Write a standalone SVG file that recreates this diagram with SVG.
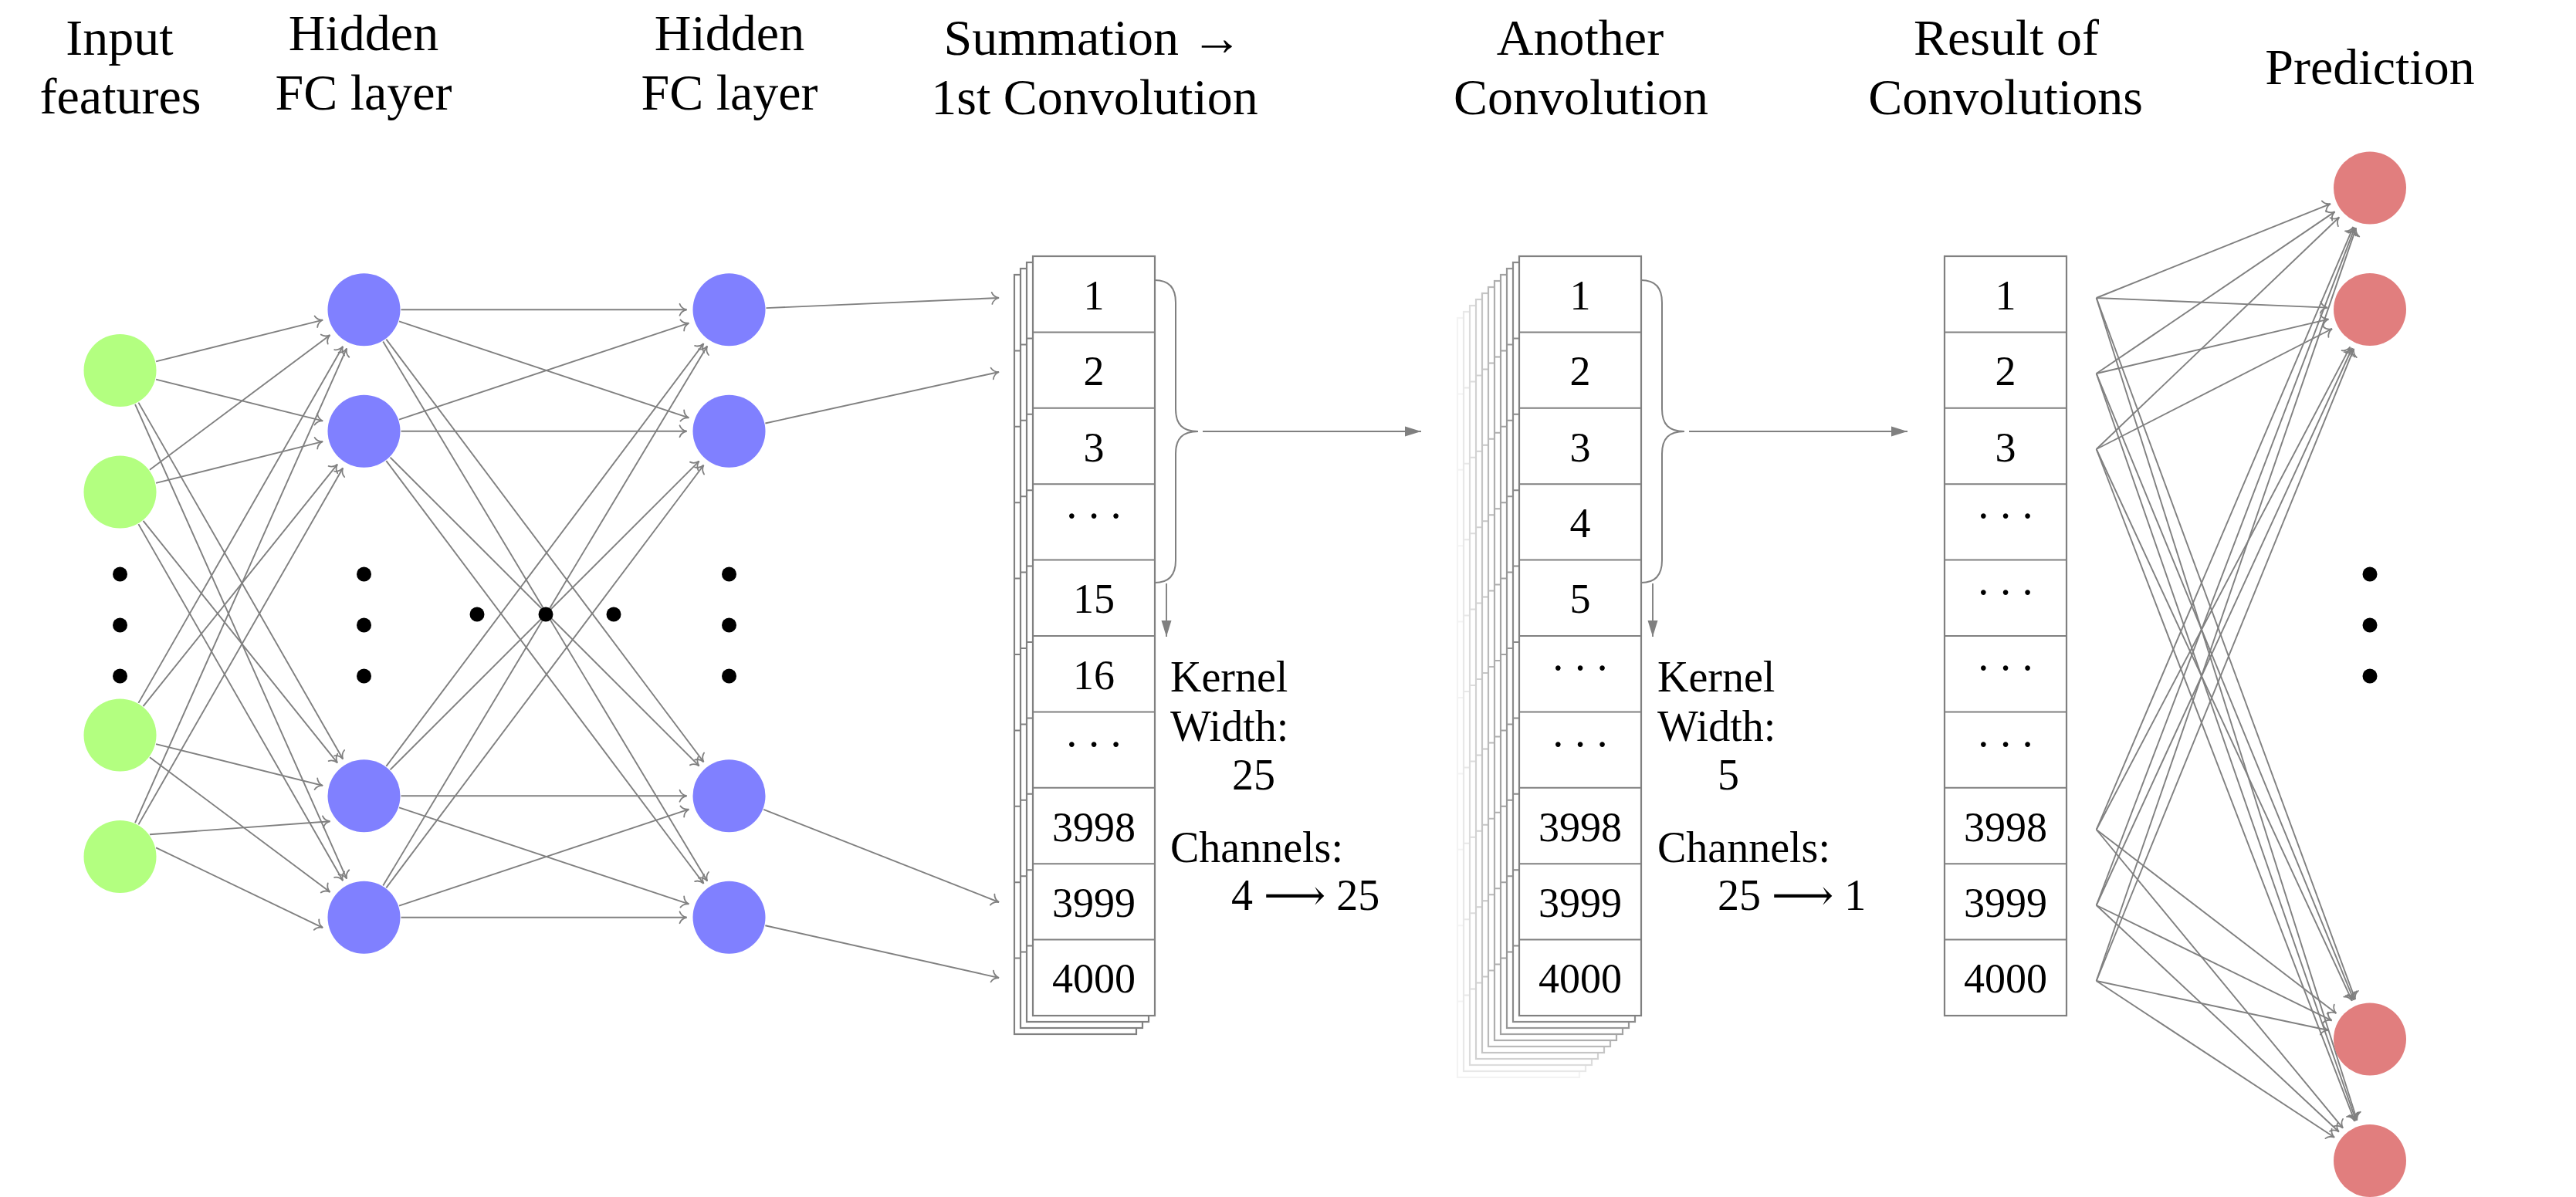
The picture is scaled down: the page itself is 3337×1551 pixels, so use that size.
<svg xmlns="http://www.w3.org/2000/svg" xmlns:xlink="http://www.w3.org/1999/xlink" width="3337" height="1551" viewBox="0 0 3337 1551">
<style>
text{font-family:"Liberation Serif","DejaVu Serif",serif;fill:#000}
.h{font-size:66px;text-anchor:middle}
.k{font-size:56px}
.c{font-size:54px;text-anchor:middle}
.d{font-size:56px;text-anchor:middle;letter-spacing:10px}
.e line{stroke:#808080;stroke-width:1.9;fill:none}
.e path{stroke:#808080;stroke-width:2;fill:none}
.in{fill:#b3ff80}.hid{fill:#8080ff}.out{fill:#e17e7e}
.dot{fill:#000}
</style>
<defs>
<marker id="to" viewBox="-11 -10 13 20" markerWidth="13" markerHeight="20" refX="0" refY="0" orient="auto" markerUnits="userSpaceOnUse">
<path d="M-9,-7.5 C-7.5,-3 -3.5,-0.8 0,0 C-3.5,0.8 -7.5,3 -9,7.5" fill="none" stroke="#808080" stroke-width="1.8" stroke-linecap="round"/>
</marker>
<marker id="lat" viewBox="-22 -8 23 16" markerWidth="23" markerHeight="16" refX="0" refY="0" orient="auto" markerUnits="userSpaceOnUse">
<path d="M0,0 L-21,-6.5 L-21,6.5 Z" fill="#808080"/>
</marker>
<g id="grid">
<rect x="0" y="0" width="158" height="984" fill="#fff" stroke-width="2.2"/>
<path d="M0,98.4H158M0,196.8H158M0,295.2H158M0,393.6H158M0,492H158M0,590.4H158M0,688.8H158M0,787.2H158M0,885.6H158" fill="none" stroke-width="2"/>
</g>
</defs>
<rect width="3337" height="1551" fill="#fff"/>

<g id="headers">
<text class="h" x="155" y="71">Input</text>
<text class="h" x="156" y="147">features</text>
<text class="h" x="471" y="65">Hidden</text>
<text class="h" x="471" y="142">FC layer</text>
<text class="h" x="945" y="65">Hidden</text>
<text class="h" x="945" y="142">FC layer</text>
<text class="h" x="1416" y="71">Summation →</text>
<text class="h" x="1418" y="148">1st Convolution</text>
<text class="h" x="2047" y="71">Another</text>
<text class="h" x="2048" y="148">Convolution</text>
<text class="h" x="2599" y="71">Result of</text>
<text class="h" x="2598" y="148">Convolutions</text>
<text class="h" x="3070" y="109">Prediction</text>
</g>

<g id="connectors" class="e">
<!-- input -> hidden1 -->
<line x1="202.08" y1="468.39" x2="418.13" y2="414.55" marker-end="url(#to)"/>
<line x1="202.08" y1="491.61" x2="418.13" y2="545.45" marker-end="url(#to)"/>
<line x1="179.37" y1="521.64" x2="444.15" y2="983.53" marker-end="url(#to)"/>
<line x1="175.05" y1="523.84" x2="449.10" y2="1138.52" marker-end="url(#to)"/>
<line x1="193.94" y1="608.76" x2="427.45" y2="434.18" marker-end="url(#to)"/>
<line x1="202.08" y1="625.89" x2="418.13" y2="572.05" marker-end="url(#to)"/>
<line x1="185.54" y1="674.94" x2="437.08" y2="988.36" marker-end="url(#to)"/>
<line x1="179.37" y1="679.14" x2="444.15" y2="1141.03" marker-end="url(#to)"/>
<line x1="179.37" y1="910.86" x2="444.15" y2="448.97" marker-end="url(#to)"/>
<line x1="185.54" y1="915.06" x2="437.08" y2="601.64" marker-end="url(#to)"/>
<line x1="202.08" y1="964.11" x2="418.13" y2="1017.95" marker-end="url(#to)"/>
<line x1="193.94" y1="981.24" x2="427.45" y2="1155.82" marker-end="url(#to)"/>
<line x1="175.05" y1="1066.16" x2="449.10" y2="451.48" marker-end="url(#to)"/>
<line x1="179.37" y1="1068.36" x2="444.15" y2="606.47" marker-end="url(#to)"/>
<line x1="193.94" y1="1081.26" x2="427.45" y2="1064.18" marker-end="url(#to)"/>
<line x1="202.08" y1="1098.39" x2="418.13" y2="1202.05" marker-end="url(#to)"/>
<!-- hidden1 -> hidden2 -->
<line x1="519.5" y1="401.25" x2="889.5" y2="401.25" marker-end="url(#to)"/>
<line x1="517.04" y1="416.41" x2="892.32" y2="541.37" marker-end="url(#to)"/>
<line x1="500.32" y1="439.64" x2="911.48" y2="987.27" marker-end="url(#to)"/>
<line x1="496.22" y1="442.40" x2="916.18" y2="1141.60" marker-end="url(#to)"/>
<line x1="517.04" y1="543.59" x2="892.32" y2="418.63" marker-end="url(#to)"/>
<line x1="519.5" y1="558.75" x2="889.5" y2="558.75" marker-end="url(#to)"/>
<line x1="505.46" y1="592.67" x2="905.59" y2="992.38" marker-end="url(#to)"/>
<line x1="500.32" y1="597.14" x2="911.48" y2="1144.77" marker-end="url(#to)"/>
<line x1="500.32" y1="992.86" x2="911.48" y2="445.23" marker-end="url(#to)"/>
<line x1="505.46" y1="997.33" x2="905.59" y2="597.62" marker-end="url(#to)"/>
<line x1="519.5" y1="1031.25" x2="889.5" y2="1031.25" marker-end="url(#to)"/>
<line x1="517.04" y1="1046.41" x2="892.32" y2="1171.37" marker-end="url(#to)"/>
<line x1="496.22" y1="1147.60" x2="916.18" y2="448.40" marker-end="url(#to)"/>
<line x1="500.32" y1="1150.36" x2="911.48" y2="602.73" marker-end="url(#to)"/>
<line x1="517.04" y1="1173.59" x2="892.32" y2="1048.63" marker-end="url(#to)"/>
<line x1="519.5" y1="1188.75" x2="889.5" y2="1188.75" marker-end="url(#to)"/>
<!-- hidden2 -> conv -->
<line x1="992.45" y1="399.16" x2="1294" y2="386" marker-end="url(#to)"/>
<line x1="991.38" y1="548.45" x2="1294" y2="482" marker-end="url(#to)"/>
<line x1="989.16" y1="1048.85" x2="1294" y2="1169" marker-end="url(#to)"/>
<line x1="991.34" y1="1199.24" x2="1294" y2="1267" marker-end="url(#to)"/>
<!-- result -> prediction -->
<line x1="2715.7" y1="386" x2="3018.97" y2="264.02" marker-end="url(#to)"/>
<line x1="2715.7" y1="386" x2="3015.05" y2="398.67" marker-end="url(#to)"/>
<line x1="2715.7" y1="386" x2="3050.97" y2="1294.90" marker-end="url(#to)"/>
<line x1="2715.7" y1="386" x2="3053.38" y2="1451.57" marker-end="url(#to)"/>
<line x1="2715.7" y1="484" x2="3024.49" y2="274.39" marker-end="url(#to)"/>
<line x1="2715.7" y1="484" x2="3016.45" y2="413.55" marker-end="url(#to)"/>
<line x1="2715.7" y1="484" x2="3049.10" y2="1295.62" marker-end="url(#to)"/>
<line x1="2715.7" y1="484" x2="3051.95" y2="1452.04" marker-end="url(#to)"/>
<line x1="2715.7" y1="582" x2="3030.23" y2="281.49" marker-end="url(#to)"/>
<line x1="2715.7" y1="582" x2="3021.02" y2="426.02" marker-end="url(#to)"/>
<line x1="2715.7" y1="582" x2="3046.87" y2="1296.60" marker-end="url(#to)"/>
<line x1="2715.7" y1="582" x2="3050.27" y2="1452.66" marker-end="url(#to)"/>
<line x1="2715.7" y1="1075" x2="3048.44" y2="294.10" marker-end="url(#to)"/>
<line x1="2715.7" y1="1075" x2="3044.41" y2="449.68" marker-end="url(#to)"/>
<line x1="2715.7" y1="1075" x2="3026.34" y2="1313.05" marker-end="url(#to)"/>
<line x1="2715.7" y1="1075" x2="3034.98" y2="1461.59" marker-end="url(#to)"/>
<line x1="2715.7" y1="1173" x2="3050.41" y2="294.89" marker-end="url(#to)"/>
<line x1="2715.7" y1="1173" x2="3047.06" y2="450.99" marker-end="url(#to)"/>
<line x1="2715.7" y1="1173" x2="3020.60" y2="1322.31" marker-end="url(#to)"/>
<line x1="2715.7" y1="1173" x2="3029.81" y2="1466.45" marker-end="url(#to)"/>
<line x1="2715.7" y1="1271" x2="3052.07" y2="295.50" marker-end="url(#to)"/>
<line x1="2715.7" y1="1271" x2="3049.26" y2="451.94" marker-end="url(#to)"/>
<line x1="2715.7" y1="1271" x2="3016.21" y2="1335.04" marker-end="url(#to)"/>
<line x1="2715.7" y1="1271" x2="3024.05" y2="1473.78" marker-end="url(#to)"/>
<!-- braces and conv arrows -->
<path d="M1496,363 C1514,363 1523,372 1523,392 L1523,530 C1523,550 1532,559 1552,559 C1532,559 1523,568 1523,588 L1523,726 C1523,746 1514,755 1496,755"/>
<line x1="1558" y1="559" x2="1841" y2="559" marker-end="url(#lat)"/>
<line x1="1511" y1="756" x2="1511" y2="825" marker-end="url(#lat)"/>
<path d="M2126,363 C2144,363 2153,372 2153,392 L2153,530 C2153,550 2162,559 2182,559 C2162,559 2153,568 2153,588 L2153,726 C2153,746 2144,755 2126,755"/>
<line x1="2188" y1="559" x2="2471" y2="559" marker-end="url(#lat)"/>
<line x1="2141" y1="756" x2="2141" y2="825" marker-end="url(#lat)"/>
</g>

<g id="input-layer">
<circle class="in" cx="155.5" cy="480" r="47"/>
<circle class="in" cx="155.5" cy="637.5" r="47"/>
<circle class="in" cx="155.5" cy="952.5" r="47"/>
<circle class="in" cx="155.5" cy="1110" r="47"/>
<circle class="dot" cx="155.5" cy="744" r="9.5"/>
<circle class="dot" cx="155.5" cy="810" r="9.5"/>
<circle class="dot" cx="155.5" cy="876" r="9.5"/>
</g>
<g id="hidden-layer-1">
<circle class="hid" cx="471.5" cy="401.25" r="47"/>
<circle class="hid" cx="471.5" cy="558.75" r="47"/>
<circle class="hid" cx="471.5" cy="1031.25" r="47"/>
<circle class="hid" cx="471.5" cy="1188.75" r="47"/>
<circle class="dot" cx="471.5" cy="744" r="9.5"/>
<circle class="dot" cx="471.5" cy="810" r="9.5"/>
<circle class="dot" cx="471.5" cy="876" r="9.5"/>
</g>
<g id="between-dots">
<circle class="dot" cx="618" cy="796" r="9.5"/>
<circle class="dot" cx="707" cy="796" r="9.5"/>
<circle class="dot" cx="795" cy="796" r="9.5"/>
</g>
<g id="hidden-layer-2">
<circle class="hid" cx="944.5" cy="401.25" r="47"/>
<circle class="hid" cx="944.5" cy="558.75" r="47"/>
<circle class="hid" cx="944.5" cy="1031.25" r="47"/>
<circle class="hid" cx="944.5" cy="1188.75" r="47"/>
<circle class="dot" cx="944.5" cy="744" r="9.5"/>
<circle class="dot" cx="944.5" cy="810" r="9.5"/>
<circle class="dot" cx="944.5" cy="876" r="9.5"/>
</g>

<g id="conv1">
<use xlink:href="#grid" href="#grid" x="1314" y="356" stroke="#808080"/>
<use xlink:href="#grid" href="#grid" x="1322" y="348" stroke="#808080"/>
<use xlink:href="#grid" href="#grid" x="1330" y="340" stroke="#808080"/>
<use xlink:href="#grid" href="#grid" x="1338" y="332" stroke="#808080"/>
<text class="c" x="1417" y="400.7">1</text>
<text class="c" x="1417" y="499.1">2</text>
<text class="c" x="1417" y="597.5">3</text>
<text class="d" x="1422" y="688.4">···</text>
<text class="c" x="1417" y="794.3">15</text>
<text class="c" x="1417" y="892.7">16</text>
<text class="d" x="1422" y="983.6">···</text>
<text class="c" x="1417" y="1089.5">3998</text>
<text class="c" x="1417" y="1187.9">3999</text>
<text class="c" x="1417" y="1286.3">4000</text>
<text class="k" x="1516" y="896">Kernel</text>
<text class="k" x="1516" y="960">Width:</text>
<text class="k" x="1596" y="1023">25</text>
<text class="k" x="1516" y="1117">Channels:</text>
<text class="k" x="1595" y="1179">4 ⟶ 25</text>
</g>

<g id="conv2">
<use xlink:href="#grid" href="#grid" x="1888" y="412" stroke="#f3f3f3"/>
<use xlink:href="#grid" href="#grid" x="1896" y="404" stroke="#e8e8e8"/>
<use xlink:href="#grid" href="#grid" x="1904" y="396" stroke="#dcdcdc"/>
<use xlink:href="#grid" href="#grid" x="1912" y="388" stroke="#d1d1d1"/>
<use xlink:href="#grid" href="#grid" x="1920" y="380" stroke="#c5c5c5"/>
<use xlink:href="#grid" href="#grid" x="1928" y="372" stroke="#bababa"/>
<use xlink:href="#grid" href="#grid" x="1936" y="364" stroke="#aeaeae"/>
<use xlink:href="#grid" href="#grid" x="1944" y="356" stroke="#a3a3a3"/>
<use xlink:href="#grid" href="#grid" x="1952" y="348" stroke="#979797"/>
<use xlink:href="#grid" href="#grid" x="1960" y="340" stroke="#8b8b8b"/>
<use xlink:href="#grid" href="#grid" x="1968" y="332" stroke="#808080"/>
<text class="c" x="2047" y="400.7">1</text>
<text class="c" x="2047" y="499.1">2</text>
<text class="c" x="2047" y="597.5">3</text>
<text class="c" x="2047" y="695.9">4</text>
<text class="c" x="2047" y="794.3">5</text>
<text class="d" x="2052" y="885.2">···</text>
<text class="d" x="2052" y="983.6">···</text>
<text class="c" x="2047" y="1089.5">3998</text>
<text class="c" x="2047" y="1187.9">3999</text>
<text class="c" x="2047" y="1286.3">4000</text>
<text class="k" x="2147" y="896">Kernel</text>
<text class="k" x="2147" y="960">Width:</text>
<text class="k" x="2225" y="1023">5</text>
<text class="k" x="2147" y="1117">Channels:</text>
<text class="k" x="2225" y="1179">25 ⟶ 1</text>
</g>

<g id="result">
<use xlink:href="#grid" href="#grid" x="2519" y="332" stroke="#808080"/>
<text class="c" x="2598" y="400.7">1</text>
<text class="c" x="2598" y="499.1">2</text>
<text class="c" x="2598" y="597.5">3</text>
<text class="d" x="2603" y="688.4">···</text>
<text class="d" x="2603" y="786.8">···</text>
<text class="d" x="2603" y="885.2">···</text>
<text class="d" x="2603" y="983.6">···</text>
<text class="c" x="2598" y="1089.5">3998</text>
<text class="c" x="2598" y="1187.9">3999</text>
<text class="c" x="2598" y="1286.3">4000</text>
</g>

<g id="prediction-layer">
<circle class="out" cx="3070" cy="243.5" r="47"/>
<circle class="out" cx="3070" cy="401" r="47"/>
<circle class="out" cx="3070" cy="1346.5" r="47"/>
<circle class="out" cx="3070" cy="1504" r="47"/>
<circle class="dot" cx="3070" cy="744" r="9.5"/>
<circle class="dot" cx="3070" cy="810" r="9.5"/>
<circle class="dot" cx="3070" cy="876" r="9.5"/>
</g>
</svg>
